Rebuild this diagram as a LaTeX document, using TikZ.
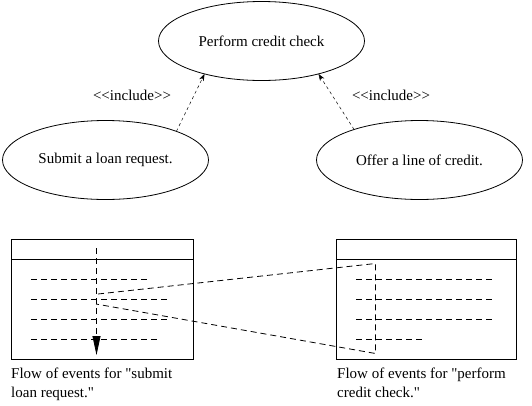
\documentclass[tikz,border=0pt]{standalone}
\usepackage{fontspec}
\setmainfont{Liberation Serif}
\usetikzlibrary{shapes.geometric,arrows.meta}
\newcommand{\sq}{\XeTeXglyph\XeTeXcharglyph"22\relax}
\begin{document}
\begin{tikzpicture}[x=1pt,y=-1pt,
  font=\fontsize{15}{19}\selectfont,
  usecase/.style={ellipse,draw,line width=0.8pt,minimum width=206pt,minimum height=79pt,inner sep=0pt,outer sep=0pt},
  incl/.style={dash pattern=on 3pt off 3pt,line width=0.5pt,-{Stealth[length=7pt,width=5pt]}},
  lbl/.style={inner sep=0pt},
  caption/.style={anchor=base west,inner sep=0pt},
  flowbox/.style={draw,line width=0.8pt,minimum width=182pt,minimum height=120pt,inner sep=0pt,outer sep=0pt},
  stepline/.style={dash pattern=on 6pt off 4pt,line width=0.8pt},
  flow/.style={dash pattern=on 6pt off 4pt,line width=0.8pt}]
\useasboundingbox (0,0) rectangle (532,405);
% use cases
\node[usecase] (check) at (261.5,41) {Perform credit check};
\node[usecase] (submit) at (105.5,160) {Submit a loan request.};
\node[usecase] (offer) at (419.5,160) {Offer a line of credit.};
\draw[incl] (submit.22) -- (check.210);
\draw[incl] (offer.155) -- (check.330);
\node[lbl] (inc1) at (132,95) {<{}<include>{}>};
\node[lbl] (inc2) at (391,95) {<{}<include>{}>};
% flow boxes
\node[flowbox] (lbox) at (102.5,299.5) {};
\node[flowbox,minimum width=180pt] (rbox) at (426.5,299.5) {};
\draw[line width=0.8pt] ([yshift=-20pt]lbox.north west) -- ([yshift=-20pt]lbox.north east);
\draw[line width=0.8pt] ([yshift=-20pt]rbox.north west) -- ([yshift=-20pt]rbox.north east);
% steps left
\draw[stepline] (31,279.5) -- (147,279.5);
\draw[stepline] (31,299.5) -- (170,299.5);
\draw[stepline] (31,319.5) -- (170,319.5);
\draw[stepline] (31,339.5) -- (157,339.5);
% steps right
\draw[stepline] (356,279.5) -- (495,279.5);
\draw[stepline] (356,299.5) -- (495,299.5);
\draw[stepline] (356,319.5) -- (495,319.5);
\draw[stepline] (356,339.5) -- (422,339.5);
% flow
\coordinate (vt) at (96.5,248);
\coordinate (vb) at (96.5,355);
\draw[flow,-{Triangle[length=19pt,width=8pt]}] (vt) -- (vb);
\coordinate (s1) at (98,294);
\coordinate (c1) at (375.5,263.5);
\coordinate (c2) at (375.5,353.5);
\coordinate (s2) at (96,304);
\draw[flow] (s1) -- (c1) -- (c2) -- (s2);
% captions
\node[caption] (cap1a) at (11,378) {Flow of events for \sq submit};
\node[caption] (cap1b) at (11,397) {loan request.\sq};
\node[caption] (cap2a) at (337,378) {Flow of events for \sq perform};
\node[caption] (cap2b) at (337,397) {credit check.\sq};
\end{tikzpicture}
\end{document}
